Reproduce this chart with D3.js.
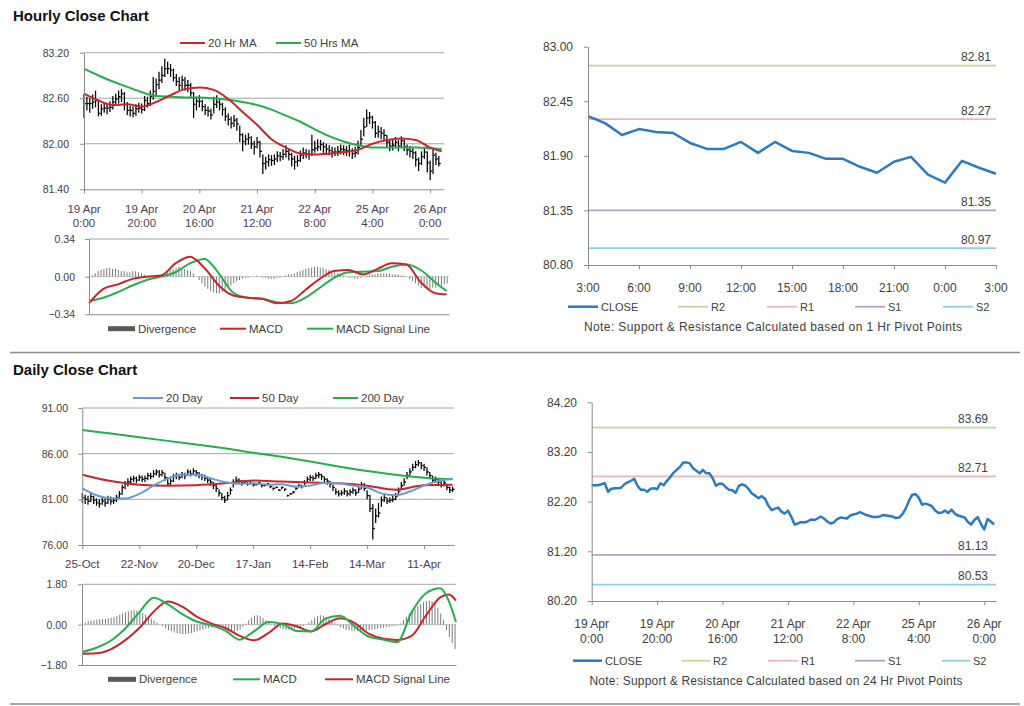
<!DOCTYPE html>
<html><head><meta charset="utf-8">
<script src="https://cdn.jsdelivr.net/npm/d3@7"></script>
<style>
body{margin:0;background:#fff;}
svg{display:block;}
</style></head><body>
<svg id="c" width="1024" height="706"></svg>
<script>
// ---------------- DATA ----------------
const hourlyTickIdx = [0,20,40,60,80,100,120];
const hourlyTickLabels = [["19 Apr","0:00"],["19 Apr","20:00"],["20 Apr","16:00"],["21 Apr","12:00"],["22 Apr","8:00"],["25 Apr","4:00"],["26 Apr","0:00"]];

const hourlyClose = [82.53,82.53,82.53,82.55,82.57,82.40,82.46,82.47,82.47,82.48,
82.55,82.59,82.62,82.66,82.52,82.44,82.44,82.40,82.46,82.47,
82.45,82.57,82.53,82.62,82.69,82.78,82.84,82.90,82.99,82.99,
82.97,82.87,82.82,82.77,82.84,82.77,82.77,82.67,82.52,82.56,
82.56,82.49,82.44,82.43,82.38,82.52,82.55,82.52,82.45,82.36,
82.32,82.27,82.31,82.26,82.12,82.03,82.06,82.08,82.00,81.96,
82.02,81.90,81.74,81.76,81.79,81.78,81.80,81.84,81.83,81.86,
81.90,81.86,81.80,81.76,81.78,81.85,81.88,81.87,81.86,81.92,
81.94,81.96,81.99,81.96,81.93,81.91,81.89,81.89,81.90,81.93,
81.92,81.91,81.90,81.87,81.88,81.95,82.06,82.22,82.34,82.35,
82.28,82.14,82.16,82.14,82.11,82.02,81.97,81.98,82.02,81.97,
82.04,81.96,81.92,81.90,81.88,81.79,81.74,81.83,81.89,81.75,
81.64,81.85,81.80,81.74];
const hourlyHigh = [82.66,82.62,82.60,82.65,82.70,82.58,82.52,82.55,82.53,82.56,
82.63,82.66,82.70,82.72,82.68,82.55,82.50,82.49,82.52,82.54,
82.53,82.63,82.62,82.70,82.88,82.86,82.95,83.02,83.12,83.08,
83.05,82.99,82.92,82.88,82.90,82.88,82.84,82.80,82.68,82.62,
82.64,82.58,82.52,82.49,82.46,82.62,82.64,82.60,82.54,82.48,
82.40,82.36,82.38,82.34,82.24,82.14,82.12,82.14,82.10,82.04,
82.09,82.04,81.86,81.83,81.86,81.85,81.86,81.90,81.89,81.93,
81.98,81.93,81.88,81.84,81.85,81.91,81.95,81.93,81.92,82.12,
82.04,82.06,82.05,82.02,82.00,81.98,81.96,81.95,81.97,81.99,
81.98,81.97,81.99,81.94,81.96,82.04,82.18,82.34,82.45,82.42,
82.37,82.30,82.24,82.22,82.19,82.12,82.06,82.05,82.09,82.05,
82.10,82.06,81.99,81.97,81.94,81.90,81.82,81.90,81.96,81.90,
81.78,81.94,81.88,81.84];
const hourlyLow = [82.34,82.44,82.41,82.46,82.48,82.36,82.37,82.41,82.39,82.42,
82.45,82.50,82.53,82.55,82.44,82.38,82.36,82.35,82.37,82.41,
82.40,82.43,82.48,82.50,82.58,82.64,82.72,82.80,82.88,82.92,
82.88,82.82,82.76,82.70,82.72,82.70,82.68,82.62,82.34,82.44,
82.48,82.43,82.38,82.36,82.32,82.40,82.47,82.44,82.37,82.30,
82.24,82.20,82.22,82.17,82.02,81.90,81.98,81.99,81.93,81.86,
81.94,81.82,81.60,81.66,81.70,81.71,81.72,81.76,81.77,81.79,
81.82,81.78,81.70,81.66,81.70,81.76,81.80,81.81,81.79,81.84,
81.88,81.90,81.91,81.88,81.86,81.85,81.82,81.84,81.84,81.86,
81.85,81.84,81.83,81.80,81.82,81.86,81.96,82.10,82.22,82.26,
82.20,82.08,82.08,82.06,82.04,81.94,81.90,81.91,81.94,81.90,
81.95,81.90,81.85,81.82,81.80,81.70,81.64,81.72,81.80,81.62,
81.52,81.60,81.72,81.70];

const hourlyMaIdx = [0,5,10,15,20,25,30,35,40,45,50,55,60,65,70,75,80,85,90,95,100,105,110,115,120,124];
const ma20Hr = [82.66,82.57,82.51,82.52,82.49,82.55,82.64,82.72,82.74,82.71,82.59,82.42,82.25,82.06,81.95,81.87,81.86,81.87,81.89,81.92,82.00,82.05,82.07,82.05,81.95,81.90];
const ma50Hr = [82.99,82.90,82.82,82.75,82.68,82.63,82.62,82.61,82.61,82.60,82.58,82.55,82.51,82.45,82.37,82.29,82.19,82.10,82.03,81.98,81.95,81.95,81.95,81.95,81.94,81.93];

const hourlyMacd = [-0.24,-0.11,-0.07,-0.02,0.00,0.01,0.12,0.18,0.08,-0.08,-0.17,-0.19,-0.20,-0.24,-0.22,-0.12,-0.02,0.05,0.06,0.02,0.07,0.12,0.11,-0.05,-0.15,-0.16];
const hourlySignal = [-0.22,-0.19,-0.14,-0.08,-0.03,0.00,0.04,0.12,0.16,0.03,-0.145,-0.19,-0.20,-0.23,-0.24,-0.19,-0.10,-0.01,0.04,0.045,0.05,0.09,0.11,0.06,-0.05,-0.13];
const hourlyDivergence = [0.00,0.01,0.03,0.05,
0.06,0.07,0.08,0.08,0.07,0.07,0.06,0.05,0.05,
0.04,0.04,0.05,0.05,0.04,0.03,
0.02,0.01,0.01,0.00,0.00,0.01,0.01,
0.02,0.04,0.06,0.07,0.08,0.09,0.08,0.07,0.06,0.05,0.03,
0.00,-0.03,-0.06,-0.09,-0.11,-0.13,-0.14,-0.15,-0.15,-0.14,-0.12,-0.10,-0.08,-0.06,-0.04,-0.03,
-0.02,-0.01,-0.01,0.00,0.00,0.01,0.00,-0.01,-0.01,-0.02,-0.02,-0.02,-0.01,-0.01,0.00,0.01,0.02,0.02,0.03,0.04,0.05,0.06,
0.07,0.08,0.08,0.09,0.09,0.08,0.08,0.07,0.06,0.05,0.04,0.03,0.02,0.01,
0.00,-0.01,-0.01,-0.02,-0.02,-0.01,0.00,0.01,0.02,0.02,0.02,0.03,0.03,0.03,0.03,0.03,0.02,0.02,0.02,0.01,0.01,0.00,
-0.02,-0.04,-0.06,-0.08,-0.10,-0.10,-0.11,-0.11,-0.10,-0.10,-0.09,-0.08,-0.07,-0.06];

// 1 Hr pivot chart
const pivotHourLabels = ["3:00","6:00","9:00","12:00","15:00","18:00","21:00","0:00","3:00"];
const pivotHourClose = [82.30,82.23,82.11,82.17,82.14,82.13,82.03,81.97,81.97,82.04,81.93,82.04,81.95,81.93,81.87,81.87,81.79,81.73,81.84,81.89,81.71,81.63,81.85,81.78,81.72];
const pivotHourLevels = [82.81,82.27,81.35,80.97]; // R2,R1,S1,S2

// Daily chart
const dailyTickIdx = [0,20,40,60,80,100,120];
const dailyTickLabels = ["25-Oct","22-Nov","20-Dec","17-Jan","14-Feb","14-Mar","11-Apr"];
const dailyClose = [81.2,81.0,80.8,81.3,80.9,80.6,80.5,80.8,80.6,81.0,
80.8,80.9,81.2,81.6,82.3,82.7,82.9,83.2,83.3,83.1,
83.4,83.2,83.3,83.6,83.5,83.8,84.0,83.7,83.9,83.4,
82.7,83.0,83.5,83.6,83.4,83.7,83.6,84.0,83.8,84.1,
83.9,83.6,83.5,83.3,83.1,82.9,82.5,82.2,81.7,81.2,
80.9,81.4,82.0,82.9,83.1,83.0,82.8,82.9,82.7,82.8,
82.6,82.7,82.8,82.5,82.6,82.7,82.4,82.2,82.3,82.0,
82.3,82.1,81.4,81.6,81.8,82.2,82.5,82.4,82.8,83.2,
83.4,83.3,83.6,83.7,83.5,83.2,83.0,82.7,82.3,81.8,
81.6,81.7,81.9,81.6,81.8,82.0,81.7,82.1,82.6,82.2,
81.4,80.0,77.8,79.2,79.5,80.9,81.2,80.8,80.9,81.0,
81.3,81.9,82.5,82.9,83.6,84.0,84.5,84.8,85.0,84.7,
84.5,84.0,83.6,83.1,83.2,82.9,82.6,82.8,82.3,82.0,82.1];
const dailyHigh = [81.7,81.5,81.4,81.8,81.4,81.1,81.0,81.2,81.1,81.4,
81.3,81.2,81.5,81.9,82.6,83.0,83.3,83.5,83.6,83.5,
83.7,83.6,83.6,83.9,83.9,84.2,84.3,84.2,84.2,83.9,
83.4,83.3,83.8,83.9,83.8,84.0,83.9,84.3,84.2,84.4,
84.2,84.0,83.8,83.7,83.5,83.3,82.9,82.6,82.1,81.7,
81.4,81.8,82.3,83.2,83.5,83.3,83.1,83.1,82.9,83.0,
82.8,82.8,82.9,82.6,82.7,82.8,82.5,82.3,82.4,82.1,
82.4,82.2,81.5,81.7,81.9,82.4,82.7,82.6,83.1,83.5,
83.7,83.6,83.9,84.0,83.8,83.5,83.3,83.0,82.6,82.2,
82.0,82.0,82.2,82.0,82.1,82.3,82.1,82.4,82.9,82.8,
82.0,81.5,80.5,80.0,80.6,81.3,81.5,81.2,81.2,81.4,
81.7,82.3,82.9,83.3,84.0,84.4,84.9,85.2,85.3,85.1,
84.9,84.5,84.0,83.6,83.5,83.3,83.0,83.1,82.7,82.4,82.4];
const dailyLow = [80.6,80.5,80.4,80.7,80.5,80.3,80.1,80.4,80.2,80.5,
80.4,80.5,80.7,81.0,81.5,82.1,82.4,82.8,82.9,82.8,
83.0,82.9,82.9,83.1,83.2,83.4,83.6,83.4,83.5,83.0,
82.5,82.6,82.9,83.2,83.1,83.3,83.2,83.6,83.5,83.7,
83.5,83.3,83.1,83.0,82.8,82.5,82.1,81.8,81.3,80.9,
80.6,80.9,81.5,82.3,82.8,82.7,82.5,82.7,82.5,82.6,
82.4,82.5,82.6,82.3,82.4,82.5,82.2,82.0,82.2,81.9,
82.1,81.9,81.3,81.5,81.6,82.0,82.3,82.2,82.5,82.8,
83.0,83.0,83.2,83.3,83.1,82.9,82.6,82.3,81.9,81.5,
81.3,81.4,81.5,81.3,81.4,81.6,81.4,81.7,82.1,81.9,
81.0,79.6,76.6,78.4,79.0,80.2,80.7,80.5,80.6,80.7,
80.9,81.4,82.1,82.5,83.2,83.6,84.1,84.4,84.6,84.3,
84.1,83.6,83.2,82.8,82.8,82.5,82.3,82.4,82.0,81.7,81.8];

const dailyIdx10 = [0,10,20,30,40,50,60,70,80,90,100,110,120,130];
const dailyIdx5 = [0,5,10,15,20,25,30,35,40,45,50,55,60,65,70,75,80,85,90,95,100,105,110,115,120,125,130];
const ma200Day = [88.6,88.2,87.8,87.4,87.0,86.6,86.1,85.65,85.15,84.6,84.1,83.7,83.37,83.2];
const ma50Day = [83.7,83.0,82.6,82.5,82.55,82.75,83.05,82.95,82.85,82.75,82.5,82.05,82.55,82.6];
const ma20Day = [82.2,81.45,81.1,81.1,81.6,82.5,83.3,83.7,83.7,83.3,82.9,82.7,82.75,82.6,82.65,82.4,82.5,82.8,82.75,82.5,82.3,81.65,81.45,81.85,82.5,83.0,83.25];

const dailyMacdIdx = [0,5,10,15,20,25,30,35,40,45,50,55,60,65,70,75,80,85,90,95,100,105,110,115,120,125,128,130.5];
const dailyMacd = [-1.22,-1.03,-0.72,-0.18,0.55,1.2,0.9,0.47,0.14,-0.03,-0.27,-0.67,-0.30,0.12,0.02,-0.28,-0.30,0.28,0.40,-0.06,-0.53,-0.66,-0.78,0.55,1.40,1.62,1.05,0.12];
const dailySignal = [-1.30,-1.28,-1.10,-0.70,-0.15,0.58,1.03,0.80,0.36,0.06,-0.15,-0.50,-0.70,-0.38,0.05,-0.08,-0.30,0.03,0.28,0.08,-0.40,-0.62,-0.68,-0.50,0.40,1.22,1.34,1.07];
const dailyDivergence = [0.05,0.10,0.15,0.18,0.20,0.22,0.24,0.25,0.26,0.28,
0.30,0.33,0.38,0.44,0.50,0.55,0.60,0.63,0.65,0.63,
0.58,0.52,0.45,0.36,0.27,0.18,0.08,0.00,-0.08,-0.16,
-0.24,-0.30,-0.35,-0.38,-0.40,-0.42,-0.42,-0.40,-0.38,-0.34,
-0.30,-0.26,-0.22,-0.18,-0.15,-0.12,-0.10,-0.10,-0.12,-0.16,
-0.20,-0.24,-0.28,-0.30,-0.28,-0.22,-0.10,0.05,0.20,0.32,
0.40,0.42,0.38,0.30,0.20,0.10,0.02,-0.06,-0.12,-0.16,
-0.20,-0.22,-0.22,-0.20,-0.18,-0.14,-0.10,-0.06,0.00,0.10,
0.20,0.30,0.38,0.42,0.40,0.34,0.26,0.16,0.06,-0.04,
-0.12,-0.18,-0.22,-0.25,-0.27,-0.28,-0.28,-0.27,-0.26,-0.25,
-0.24,-0.22,-0.20,-0.18,-0.16,-0.14,-0.12,-0.10,-0.08,-0.06,
-0.04,0.05,0.20,0.35,0.50,0.62,0.72,0.82,0.92,1.00,
1.04,1.07,1.05,0.95,0.75,0.50,0.20,-0.25,-0.55,-0.82,-1.09];

// 24 Hr pivot chart (uses hourlyClose)
const pivotDayLevels = [83.69,82.71,81.13,80.53]; // R2,R1,S1,S2

const levelNames = ["R2","R1","S1","S2"];

// ---------------- STYLE ----------------
const F = '"Liberation Sans", Arial, Helvetica, sans-serif';
const TXT = "#404040";
const XTXT = "#503c5a";
const GRID = "#a6a6a6";
const AXIS = "#8c8c8c";
const RED = "#c8262c";
const GREEN = "#22b04c";
const BLUE20 = "#6a9bd1";
const CLOSEC = "#2a7bc0";
const LVLC = ["#c3d69b","#e6b9b8","#b3a2c7","#93cddd"];
const DIVC = "#7a7a7a";

const svg = d3.select("#c").attr("font-family", F);

function yAxis(x0, y, vals, fmt, labelRight, fs) {
  const g = svg.append("g").attr("transform", `translate(${x0},0)`);
  g.call(d3.axisLeft(y).tickValues(vals).tickSizeInner(4).tickSizeOuter(0)
    .tickPadding(x0 - labelRight - 4).tickFormat(fmt));
  g.attr("font-family", F).attr("font-size", fs);
  g.select(".domain").attr("stroke", AXIS);
  g.selectAll(".tick line").attr("stroke", AXIS);
  g.selectAll(".tick text").attr("fill", TXT);
}
function xAxis(y0, x, vals, tick) {
  const g = svg.append("g").attr("transform", `translate(0,${y0})`);
  g.call(d3.axisBottom(x).tickValues(vals).tickSizeInner(tick).tickSizeOuter(0).tickFormat(""));
  g.select(".domain").attr("stroke", AXIS);
  g.selectAll(".tick line").attr("stroke", AXIS);
}
function grid(y, vals, x0, x1) {
  svg.append("g").selectAll("line").data(vals).join("line")
    .attr("x1", x0).attr("x2", x1).attr("y1", d => y(d)).attr("y2", d => y(d))
    .attr("stroke", GRID).attr("stroke-width", 1);
}
function hlc(x, y, hi, lo, cl) {
  const g = svg.append("g").attr("stroke", "#000").attr("stroke-width", 1.25);
  g.selectAll("line.v").data(cl).join("line").attr("class","v")
    .attr("x1", (d,i) => x(i)).attr("x2", (d,i) => x(i))
    .attr("y1", (d,i) => y(hi[i])).attr("y2", (d,i) => y(lo[i]));
  g.selectAll("line.c").data(cl).join("line").attr("class","c")
    .attr("x1", (d,i) => x(i)).attr("x2", (d,i) => x(i) + 2)
    .attr("y1", d => y(d)).attr("y2", d => y(d));
}
function sampledLine(x, y, idx, vals, color, w) {
  const line = d3.line().x((d,i) => x(idx[i])).y(d => y(d)).curve(d3.curveMonotoneX);
  svg.append("path").datum(vals).attr("d", line).attr("fill","none")
    .attr("stroke", color).attr("stroke-width", w).attr("stroke-linejoin","round");
}
function legendLine(x1, x2, y, color, label, fs, w) {
  svg.append("line").attr("x1", x1).attr("x2", x2).attr("y1", y).attr("y2", y)
    .attr("stroke", color).attr("stroke-width", w || 2);
  svg.append("text").attr("x", x2 + 3).attr("y", y).attr("dy","0.35em")
    .attr("font-size", fs).attr("fill", TXT).text(label);
}
function legendBox(x1, x2, y, label, fs) {
  svg.append("rect").attr("x", x1).attr("y", y - 2.5).attr("width", x2 - x1).attr("height", 5).attr("fill", "#595959");
  svg.append("text").attr("x", x2 + 3).attr("y", y).attr("dy","0.35em")
    .attr("font-size", fs).attr("fill", TXT).text(label);
}
function divBars(x, y, vals) {
  svg.append("g").selectAll("line").data(vals).join("line")
    .attr("x1", (d,i) => x(i) + 0.5).attr("x2", (d,i) => x(i) + 0.5)
    .attr("y1", y(0)).attr("y2", d => y(d))
    .attr("stroke", DIVC).attr("stroke-width", 1);
}

// ---------------- TITLES & SEPARATORS ----------------
svg.append("text").attr("x", 13).attr("y", 21).attr("font-size", 15).attr("font-weight","bold").attr("fill","#111").text("Hourly Close Chart");
svg.append("text").attr("x", 13).attr("y", 375).attr("font-size", 15).attr("font-weight","bold").attr("fill","#111").text("Daily Close Chart");
svg.append("line").attr("x1", 10).attr("x2", 1020).attr("y1", 352.5).attr("y2", 352.5).attr("stroke", "#8c8c8c").attr("stroke-width", 1.5);
svg.append("line").attr("x1", 10).attr("x2", 1020).attr("y1", 704).attr("y2", 704).attr("stroke", "#8c8c8c").attr("stroke-width", 1.5);

// ---------------- PANEL 1: hourly bars ----------------
{
  const x = d3.scaleLinear().domain([0, 124.8]).range([84, 444]);
  const y = d3.scaleLinear().domain([81.4, 83.2]).range([189.3, 52.7]);
  grid(y, [83.2, 82.6, 82.0], 84, 444);
  hlc(x, y, hourlyHigh, hourlyLow, hourlyClose);
  sampledLine(x, y, hourlyMaIdx, ma50Hr, GREEN, 2);
  sampledLine(x, y, hourlyMaIdx, ma20Hr, RED, 2);
  yAxis(84, y, [81.4, 82.0, 82.6, 83.2], d3.format(".2f"), 69, 10.5);
  xAxis(189.3, x, hourlyTickIdx, 4);
  const t = svg.append("g").attr("font-size", 11.5).attr("fill", XTXT).attr("text-anchor","middle");
  hourlyTickIdx.forEach((d,i) => {
    t.append("text").attr("x", x(d)).attr("y", 213).text(hourlyTickLabels[i][0]);
    t.append("text").attr("x", x(d)).attr("y", 226.5).text(hourlyTickLabels[i][1]);
  });
  legendLine(180, 205, 43, RED, "20 Hr MA", 11.5);
  legendLine(276, 301, 43, GREEN, "50 Hrs MA", 11.5);
}
// ---------------- PANEL 1b: hourly MACD ----------------
{
  const x = d3.scaleLinear().domain([0, 124.8]).range([89, 449]);
  const y = d3.scaleLinear().domain([-0.34, 0.34]).range([314.3, 239]);
  grid(y, [0.34], 89, 449);
  svg.append("line").attr("x1", 89).attr("x2", 449).attr("y1", y(0)).attr("y2", y(0)).attr("stroke", "#c8c8c8");
  divBars(x, y, hourlyDivergence);
  sampledLine(x, y, hourlyMaIdx, hourlySignal, GREEN, 2);
  sampledLine(x, y, hourlyMaIdx, hourlyMacd, RED, 2);
  yAxis(89, y, [-0.34, 0, 0.34], d3.format(".2f"), 75, 10.5);
  xAxis(314.3, x, [], 0);
  legendBox(108, 135, 328.7, "Divergence", 11.5);
  legendLine(220, 246, 328.7, RED, "MACD", 11.5);
  legendLine(307, 333, 328.7, GREEN, "MACD Signal Line", 11.5);
}
// ---------------- PANEL 2: 1 Hr pivots ----------------
{
  const x = d3.scaleLinear().domain([0, 24]).range([588, 996]);
  const y = d3.scaleLinear().domain([80.8, 83.0]).range([265, 46.7]);
  pivotHourLevels.forEach((v,i) => {
    svg.append("line").attr("x1", 588).attr("x2", 996).attr("y1", y(v)).attr("y2", y(v))
      .attr("stroke", LVLC[i]).attr("stroke-width", 1.8);
    svg.append("text").attr("x", 991).attr("y", y(v) - 4.5).attr("text-anchor","end")
      .attr("font-size", 12).attr("fill", TXT).text(v.toFixed(2));
  });
  svg.append("path").datum(pivotHourClose)
    .attr("d", d3.line().x((d,i) => x(i)).y(d => y(d)))
    .attr("fill","none").attr("stroke", CLOSEC).attr("stroke-width", 2.5).attr("stroke-linejoin","round");
  yAxis(588, y, [80.8, 81.35, 81.9, 82.45, 83.0], d3.format(".2f"), 573, 12);
  const tv = d3.range(0, 25, 3);
  xAxis(265, x, tv, 4);
  const t = svg.append("g").attr("font-size", 12).attr("fill", TXT).attr("text-anchor","middle");
  tv.forEach((d,i) => t.append("text").attr("x", x(d)).attr("y", 291.5).text(pivotHourLabels[i]));
  legendLine(568, 598, 306.7, CLOSEC, "CLOSE", 11, 2.5);
  [[678,708],[767,797],[855,885],[943,973]].forEach((p,i) => legendLine(p[0], p[1], 306.7, LVLC[i], levelNames[i], 11, 1.8));
  svg.append("text").attr("x", 773).attr("y", 331).attr("text-anchor","middle").attr("font-size", 12).attr("fill", TXT)
    .attr("textLength", 378).attr("lengthAdjust", "spacing")
    .text("Note: Support & Resistance Calculated based on 1 Hr Pivot Points");
}
// ---------------- PANEL 3: daily bars ----------------
{
  const x = d3.scaleLinear().domain([0, 130.5]).range([82.3, 454]);
  const y = d3.scaleLinear().domain([76, 91]).range([545, 408]);
  grid(y, [91, 86, 81], 82.3, 454);
  hlc(x, y, dailyHigh, dailyLow, dailyClose);
  sampledLine(x, y, dailyIdx10, ma200Day, GREEN, 2);
  sampledLine(x, y, dailyIdx10, ma50Day, RED, 2);
  sampledLine(x, y, dailyIdx5, ma20Day, BLUE20, 2);
  yAxis(82.3, y, [76, 81, 86, 91], d3.format(".2f"), 68, 10.5);
  xAxis(545, x, dailyTickIdx, 4);
  const t = svg.append("g").attr("font-size", 11.5).attr("fill", XTXT).attr("text-anchor","middle");
  dailyTickIdx.forEach((d,i) => t.append("text").attr("x", x(d)).attr("y", 567.5).text(dailyTickLabels[i]));
  legendLine(133, 163, 398, BLUE20, "20 Day", 11.5);
  legendLine(230, 259, 398, RED, "50 Day", 11.5);
  legendLine(333, 358, 398, GREEN, "200 Day", 11.5);
}
// ---------------- PANEL 3b: daily MACD ----------------
{
  const x = d3.scaleLinear().domain([0, 130.5]).range([82, 456]);
  const y = d3.scaleLinear().domain([-1.8, 1.8]).range([665, 584.3]);
  grid(y, [1.8], 82, 456);
  svg.append("line").attr("x1", 82).attr("x2", 456).attr("y1", y(0)).attr("y2", y(0)).attr("stroke", "#c8c8c8");
  divBars(x, y, dailyDivergence);
  sampledLine(x, y, dailyMacdIdx, dailySignal, RED, 2);
  sampledLine(x, y, dailyMacdIdx, dailyMacd, GREEN, 2);
  yAxis(82, y, [-1.8, 0, 1.8], d3.format(".2f"), 67, 10.5);
  xAxis(665, x, [], 0);
  legendBox(108, 136, 679.3, "Divergence", 11.5);
  legendLine(233, 260, 679.3, GREEN, "MACD", 11.5);
  legendLine(325, 353, 679.3, RED, "MACD Signal Line", 11.5);
}
// ---------------- PANEL 4: 24 Hr pivots ----------------
{
  const x = d3.scaleLinear().domain([0, 123.6]).range([591.7, 996]);
  const y = d3.scaleLinear().domain([80.2, 84.2]).range([601, 402.3]);
  pivotDayLevels.forEach((v,i) => {
    svg.append("line").attr("x1", 591.7).attr("x2", 996).attr("y1", y(v)).attr("y2", y(v))
      .attr("stroke", LVLC[i]).attr("stroke-width", 1.8);
    svg.append("text").attr("x", 988).attr("y", y(v) - 4.5).attr("text-anchor","end")
      .attr("font-size", 12).attr("fill", TXT).text(v.toFixed(2));
  });
  svg.append("path").datum(hourlyClose)
    .attr("d", d3.line().x((d,i) => x(i)).y(d => y(d)))
    .attr("fill","none").attr("stroke", CLOSEC).attr("stroke-width", 2.5).attr("stroke-linejoin","round");
  yAxis(591.7, y, [80.2, 81.2, 82.2, 83.2, 84.2], d3.format(".2f"), 577, 12);
  xAxis(601, x, hourlyTickIdx, 4);
  const t = svg.append("g").attr("font-size", 12).attr("fill", TXT).attr("text-anchor","middle");
  hourlyTickIdx.forEach((d,i) => {
    t.append("text").attr("x", x(d)).attr("y", 627.5).text(hourlyTickLabels[i][0]);
    t.append("text").attr("x", x(d)).attr("y", 642.5).text(hourlyTickLabels[i][1]);
  });
  legendLine(573, 602, 660.7, CLOSEC, "CLOSE", 11, 2.5);
  [[682,710],[768,798],[855,885],[942,970]].forEach((p,i) => legendLine(p[0], p[1], 660.7, LVLC[i], levelNames[i], 11, 1.8));
  svg.append("text").attr("x", 776).attr("y", 685).attr("text-anchor","middle").attr("font-size", 12).attr("fill", TXT)
    .attr("textLength", 373).attr("lengthAdjust", "spacing")
    .text("Note: Support & Resistance Calculated based on 24 Hr Pivot Points");
}
</script></body></html>
